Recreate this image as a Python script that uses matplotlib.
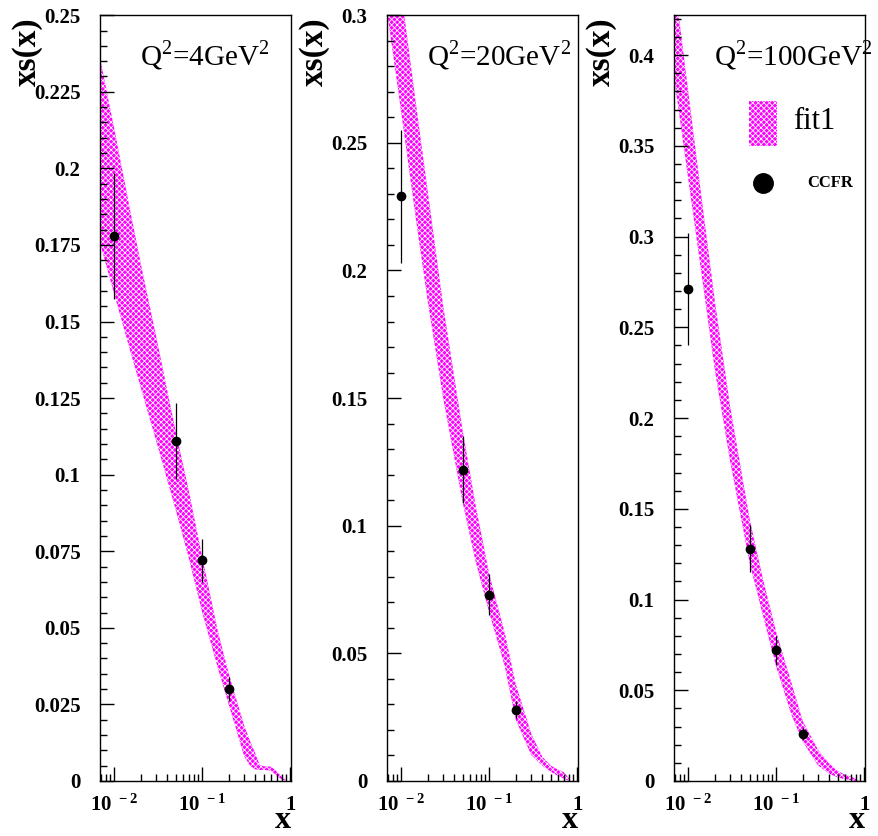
import numpy as np
import matplotlib
matplotlib.use("Agg")
import matplotlib.pyplot as plt
from matplotlib.ticker import MultipleLocator, FuncFormatter, LogLocator, FixedLocator
from matplotlib.patches import Rectangle

plt.rcParams['font.family'] = 'Liberation Serif'
plt.rcParams['mathtext.fontset'] = 'custom'
plt.rcParams['mathtext.rm'] = 'Liberation Serif'
plt.rcParams['mathtext.bf'] = 'Liberation Serif:bold'
plt.rcParams['hatch.linewidth'] = 0.6

# band edges of fit1
X1 = [0.007, 0.01, 0.015, 0.02, 0.03, 0.05, 0.07, 0.1, 0.15, 0.2, 0.3, 0.35, 0.4, 0.45, 0.5, 0.6, 0.7, 0.8, 0.9]
UP1 = [0.235, 0.213, 0.187, 0.169, 0.145, 0.114, 0.095, 0.073, 0.049, 0.035, 0.018, 0.013, 0.009, 0.0052, 0.0048, 0.0047, 0.0032, 0.0015, 0.0003]
LO1 = [0.175, 0.159, 0.141, 0.1285, 0.111, 0.0885, 0.073, 0.055, 0.037, 0.025, 0.008, 0.005, 0.0038, 0.0036, 0.0036, 0.0034, 0.0018, 0.0005, 0.0]

X2 = [0.007, 0.01, 0.015, 0.02, 0.03, 0.05, 0.07, 0.1, 0.15, 0.2, 0.3, 0.4, 0.5, 0.6, 0.7, 0.8]
UP2 = [0.348, 0.309, 0.263, 0.231, 0.186, 0.137, 0.108, 0.081, 0.058, 0.038, 0.0185, 0.0095, 0.006, 0.0045, 0.0035, 0.0012]
LO2 = [0.300, 0.262, 0.218, 0.188, 0.150, 0.109, 0.086, 0.066, 0.045, 0.024, 0.0102, 0.006, 0.0037, 0.002, 0.001, 0.0]

X3 = [0.007, 0.01, 0.015, 0.02, 0.03, 0.05, 0.07, 0.1, 0.15, 0.2, 0.3, 0.4, 0.5, 0.6, 0.7, 0.8, 0.88]
UP3 = [0.44, 0.380, 0.312, 0.265, 0.206, 0.144, 0.112, 0.082, 0.0535, 0.033, 0.017, 0.0095, 0.0055, 0.0035, 0.0025, 0.0012, 0.0]
LO3 = [0.386, 0.332, 0.271, 0.227, 0.176, 0.120, 0.092, 0.063, 0.036, 0.0217, 0.0085, 0.004, 0.002, 0.001, 0.0005, 0.0, 0.0]

# CCFR points
PX = [0.01, 0.05, 0.1, 0.2]
Y1 = [0.178, 0.111, 0.072, 0.030]
E1 = [0.0205, 0.0124, 0.0071, 0.0038]
Y2 = [0.229, 0.122, 0.073, 0.028]
E2 = [0.026, 0.013, 0.008, 0.0035]
Y3 = [0.271, 0.128, 0.072, 0.026]
E3 = [0.031, 0.013, 0.008, 0.0033]

TITLES = [r'Q$^2$=4GeV$^2$', r'Q$^2$=20GeV$^2$', r'Q$^2$=100GeV$^2$']
YMAX = [0.25, 0.3, 0.422]
YMAJ = [0.025, 0.05, 0.05]
YMIN = [0.005, 0.01, 0.01]
XLABELS = {0.01: r'$\mathbf{10^{\ -2}}$', 0.1: r'$\mathbf{10^{\ -1}}$', 1.0: r'$\mathbf{1}$'}

BAND_FACE = '#ff00ff'
BAND_HATCH = 'xxxxxx'

fig = plt.figure(figsize=(8.79, 8.36), dpi=100)
lefts = [0.1138, 0.4403, 0.7668]
panels = [(X1, UP1, LO1, Y1, E1), (X2, UP2, LO2, Y2, E2), (X3, UP3, LO3, Y3, E3)]

for i, (xb, up, lo, yp, ep) in enumerate(panels):
    ax = fig.add_axes([lefts[i], 0.0658, 0.2173, 0.916])
    ax.fill_between(xb, lo, up, facecolor=BAND_FACE, edgecolor='white',
                    hatch=BAND_HATCH, linewidth=0)
    ax.errorbar(PX, yp, yerr=ep, fmt='o', color='black', ms=6,
                elinewidth=0.9, capsize=0)
    ax.set_xscale('log')
    ax.set_xlim(0.0069, 1.02)
    ax.set_ylim(0, YMAX[i])
    ax.yaxis.set_major_locator(MultipleLocator(YMAJ[i]))
    ax.yaxis.set_minor_locator(MultipleLocator(YMIN[i]))
    ax.yaxis.set_major_formatter(FuncFormatter(lambda v, p: '%g' % round(v, 4)))
    ax.xaxis.set_major_locator(FixedLocator([0.01, 0.1, 1.0]))
    ax.xaxis.set_minor_locator(LogLocator(base=10, subs=np.arange(2, 10)))
    ax.xaxis.set_major_formatter(FuncFormatter(lambda v, p: XLABELS.get(round(v, 3), '')))
    ax.tick_params(which='both', direction='in', top=False, right=False, width=1.0)
    ax.tick_params(axis='y', which='major', length=10, pad=14, labelsize=15)
    ax.tick_params(axis='y', which='minor', length=5)
    ax.tick_params(axis='x', which='major', length=10, pad=10, labelsize=15)
    ax.tick_params(axis='x', which='minor', length=5)
    for lab in ax.get_yticklabels() + ax.get_xticklabels():
        lab.set_fontweight('bold')
    for sp in ax.spines.values():
        sp.set_linewidth(1.0)

    ax.text(0.21, 0.935, TITLES[i], transform=ax.transAxes, fontsize=21,
            ha='left', va='baseline')
    ax.text(-0.382, 0.997, 'xs(x)', transform=ax.transAxes, rotation=90,
            fontsize=24, fontweight='bold', ha='center', va='top')
    ax.text(1.0, -0.062, 'x', transform=ax.transAxes, fontsize=23,
            fontweight='bold', ha='right', va='baseline')

    if i == 2:
        ax.add_patch(Rectangle((0.393, 0.829), 0.146, 0.059, transform=ax.transAxes,
                               facecolor=BAND_FACE, edgecolor='white',
                               hatch=BAND_HATCH, linewidth=0))
        ax.text(0.623, 0.852, 'fit1', transform=ax.transAxes, fontsize=22,
                ha='left', va='baseline')
        ax.plot([0.466], [0.781], 'o', color='black', ms=14,
                transform=ax.transAxes)
        ax.text(0.696, 0.781, 'CCFR', transform=ax.transAxes, fontsize=12,
                fontweight='bold', ha='left', va='center')

fig.savefig('out.png', dpi=100)
